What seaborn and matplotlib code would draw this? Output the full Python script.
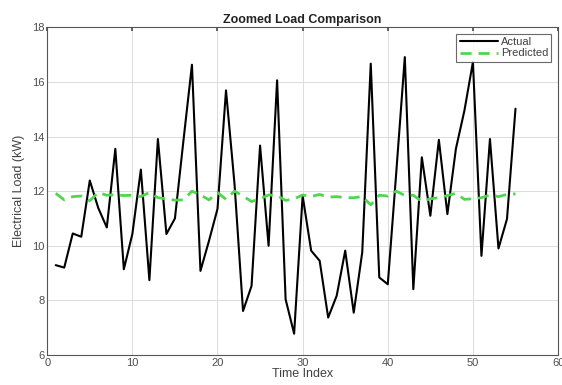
import numpy as np
import pandas as pd
import seaborn as sns
import matplotlib.pyplot as plt

# Values
time_index = list(range(1, 56))
actual = [9.29, 9.20, 10.45, 10.33, 12.39, 11.38, 10.67, 13.55, 9.14, 10.43,
          12.79, 8.74, 13.91, 10.43, 11.00, 13.85, 16.63, 9.08, 10.18, 11.35,
          15.69, 12.26, 7.61, 8.53, 13.67, 10.00, 16.06, 8.04, 6.78, 11.83,
          9.82, 9.45, 7.37, 8.17, 9.82, 7.55, 9.76, 16.67, 8.84, 8.59,
          12.70, 16.91, 8.41, 13.24, 11.10, 13.88, 11.16, 13.55, 14.95, 16.73,
          9.63, 13.91, 9.90, 10.98, 15.02]
predicted = [11.92, 11.68, 11.80, 11.82, 11.65, 11.95, 11.85, 11.87, 11.84, 11.85,
             11.80, 11.95, 11.76, 11.72, 11.67, 11.68, 12.00, 11.86, 11.68, 11.95,
             11.70, 12.00, 11.82, 11.62, 11.72, 11.86, 11.84, 11.66, 11.72, 11.86,
             11.80, 11.88, 11.78, 11.80, 11.76, 11.76, 11.80, 11.50, 11.85, 11.82,
             12.00, 11.84, 11.85, 11.62, 11.72, 11.76, 11.84, 11.92, 11.70, 11.72,
             11.76, 11.86, 11.80, 11.88, 11.90]
x_ticks = [0, 10, 20, 30, 40, 50, 60]
y_ticks = [6, 8, 10, 12, 14, 16, 18]

df = pd.DataFrame({"Time Index": time_index, "Actual": actual, "Predicted": predicted})

sns.set_theme(style="white")
plt.rcParams["font.family"] = ["Liberation Sans", "DejaVu Sans"]

fig, ax = plt.subplots(figsize=(5.62, 3.85), dpi=100)
fig.subplots_adjust(left=0.084, right=0.993, bottom=0.078, top=0.929)

sns.lineplot(data=df, x="Time Index", y="Actual", color="black", linewidth=1.5,
             label="Actual", ax=ax)
sns.lineplot(data=df, x="Time Index", y="Predicted", color="#4fd64f", linewidth=2,
             linestyle=(0, (4, 2.5)), label="Predicted", ax=ax)

ax.set_xlim(0, 60)
ax.set_ylim(6, 18)
ax.set_xticks(x_ticks)
ax.set_yticks(y_ticks)
ax.grid(True, color="#dcdcdc", linewidth=0.7)
ax.tick_params(direction="in", length=3, top=True, right=False, labelsize=8,
               colors="#4d4d4d", pad=2)
for s in ax.spines.values():
    s.set_color("#555555")
    s.set_linewidth(0.8)

ax.set_title("Zoomed Load Comparison", fontsize=9, fontweight="bold", color="#222222", pad=3)
ax.set_xlabel("Time Index", fontsize=9, color="#404040", labelpad=0)
ax.set_ylabel("Electrical Load (kW)", fontsize=9, color="#404040", labelpad=5)

leg = ax.legend(loc="upper right", fontsize=8, frameon=True, fancybox=False,
                borderpad=0.3, labelspacing=0.1, handlelength=3.5, handletextpad=0.2,
                borderaxespad=0.6)
leg.get_frame().set_edgecolor("#444444")
leg.get_frame().set_linewidth(0.8)
for t in leg.get_texts():
    t.set_color("#404040")

fig.savefig("out.png", dpi=100)
